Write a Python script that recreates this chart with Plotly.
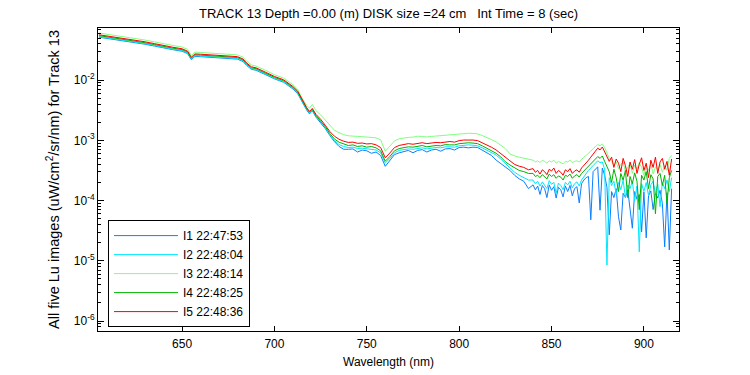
import plotly.graph_objects as go

# ---------------- data ----------------
wavelength_nm = [
    605, 610, 615, 620, 625, 630, 635, 640, 645, 650, 653, 655, 657, 660, 665, 670, 675,
    680, 683, 685, 687.5, 690, 695, 700, 705, 710, 712.5, 715, 717.5, 719, 720.5, 722.5,
    725, 727.5,
    730, 732.5, 735, 737.5, 740, 742.5, 745, 747.5, 750, 752.5, 755, 757.5, 760, 762.5,
    765, 767.5, 770, 772.5, 775, 777.5, 780, 782.5, 785, 787.5, 790, 792.5, 795, 797.5,
    800, 802.5, 805, 807.5, 810, 812.5, 815, 817.5, 820, 822.5, 825,
    827.5, 830, 832.5, 835, 837.5,
    840, 841.25, 842.5, 843.75, 845, 846.25, 847.5, 848.75, 850, 851.25, 852.5, 853.75,
    855, 856.25, 857.5, 858.75, 860, 861.25, 862.5, 863.75, 865, 866.25, 867.5, 868.75,
    870, 871.25, 872.5, 873.75, 875, 876.25, 877.5, 878.75, 880, 881.25, 882.5, 883.75,
    885, 886.25, 887.5, 888.75, 890, 891.25, 892.5, 893.75, 895, 896.25, 897.5, 898.75,
    900, 901.25, 902.5, 903.75, 905, 906.25, 907.5, 908.75, 910, 911.25, 912.5, 913.75, 915,
]

lu_i1 = [
    5.16e-2, 4.90e-2, 4.68e-2, 4.41e-2, 4.17e-2, 3.94e-2, 3.68e-2, 3.39e-2, 3.20e-2, 3.02e-2,
    2.75e-2, 2.19e-2, 2.48e-2, 2.45e-2, 2.40e-2, 2.37e-2, 2.32e-2, 2.23e-2, 2.04e-2, 1.75e-2,
    1.51e-2, 1.46e-2, 1.24e-2, 1.05e-2, 9.21e-3, 7.14e-3, 6.03e-3, 4.27e-3, 3.16e-3, 2.75e-3,
    3.09e-3, 2.42e-3, 1.99e-3, 1.57e-3,
    1.20e-3, 9.5e-4, 7.9e-4, 7.1e-4, 7.1e-4, 7.2e-4, 6.4e-4, 6.9e-4, 6.7e-4, 6.1e-4,
    6.4e-4, 5.6e-4, 3.7e-4, 4.6e-4, 5.8e-4, 6.2e-4, 6.5e-4, 6.8e-4, 6.2e-4, 6.8e-4,
    7.0e-4, 6.4e-4, 6.9e-4, 7.1e-4, 6.6e-4, 7.2e-4, 7.3e-4, 6.9e-4, 7.6e-4, 7.7e-4,
    7.5e-4, 7.7e-4, 7.6e-4, 6.8e-4, 6.2e-4, 5.6e-4, 4.7e-4, 4.1e-4, 3.5e-4,
    3.16e-4, 2.63e-4, 2.29e-4, 2.09e-4, 1.58e-4,
    1.82e-4, 1.51e-4, 1.74e-4, 1.26e-4, 1.78e-4, 1.58e-4, 1.12e-4, 1.82e-4, 1.48e-4, 1.70e-4,
    1.10e-4, 1.66e-4, 1.51e-4, 1.15e-4, 1.74e-4, 1.41e-4, 1.78e-4, 1.20e-4, 1.58e-4, 1.70e-4,
    9.12e-5, 1.91e-4, 2.19e-4, 2.40e-4, 2.51e-4, 4.79e-5, 3.02e-4, 3.31e-4, 3.63e-4, 6.92e-5,
    3.47e-4, 2.63e-4, 1.66e-4, 2.69e-5, 1.41e-4, 1.12e-4, 1.58e-4, 5.37e-5, 3.24e-5, 1.32e-4,
    1.12e-4, 1.51e-4, 7.94e-5, 3.47e-5, 1.41e-4, 1.05e-4, 1.26e-4, 3.02e-5, 1.38e-4, 2.40e-5,
    1.20e-4, 1.45e-4, 7.08e-5, 1.32e-4, 1.10e-4, 1.48e-4, 8.91e-5, 1.70e-5, 1.35e-4, 1.51e-5,
    1.58e-4,
]

lu_i2 = [
    5.28e-2, 5.01e-2, 4.79e-2, 4.52e-2, 4.26e-2, 4.03e-2, 3.76e-2, 3.47e-2, 3.27e-2, 3.09e-2,
    2.82e-2, 2.24e-2, 2.54e-2, 2.51e-2, 2.45e-2, 2.43e-2, 2.37e-2, 2.29e-2, 2.09e-2, 1.79e-2,
    1.55e-2, 1.49e-2, 1.27e-2, 1.07e-2, 9.42e-3, 7.31e-3, 6.17e-3, 4.37e-3, 3.24e-3, 2.82e-3,
    3.16e-3, 2.48e-3, 2.05e-3, 1.62e-3,
    1.23e-3, 9.9e-4, 8.5e-4, 7.9e-4, 7.6e-4, 7.7e-4, 7.3e-4, 7.4e-4, 7.2e-4, 7.2e-4,
    6.9e-4, 6.2e-4, 4.2e-4, 5.0e-4, 6.2e-4, 6.8e-4, 7.0e-4, 7.2e-4, 7.1e-4, 7.3e-4,
    7.5e-4, 7.2e-4, 7.4e-4, 7.6e-4, 7.5e-4, 7.8e-4, 7.8e-4, 7.7e-4, 8.1e-4, 8.3e-4,
    8.4e-4, 8.3e-4, 8.1e-4, 7.5e-4, 6.9e-4, 6.3e-4, 5.7e-4, 4.9e-4, 4.1e-4,
    3.39e-4, 2.95e-4, 2.63e-4, 2.40e-4, 2.19e-4,
    2.19e-4, 1.91e-4, 2.09e-4, 1.74e-4, 2.04e-4, 1.82e-4, 1.58e-4, 2.14e-4, 1.86e-4, 2.00e-4,
    1.32e-4, 1.95e-4, 1.78e-4, 1.51e-4, 2.00e-4, 1.82e-4, 2.09e-4, 1.62e-4, 1.91e-4, 2.04e-4,
    1.74e-4, 2.19e-4, 2.51e-4, 2.82e-4, 3.16e-4, 3.47e-4, 3.80e-4, 4.17e-4, 4.57e-4, 4.27e-4,
    4.37e-4, 3.31e-4, 8.51e-6, 2.40e-4, 1.78e-4, 2.09e-4, 1.26e-4, 2.00e-4, 1.51e-4, 2.19e-4,
    1.12e-4, 1.82e-4, 1.58e-4, 2.09e-4, 1.00e-4, 1.74e-4, 1.41e-5, 1.91e-4, 1.41e-4, 2.00e-4,
    1.20e-4, 1.82e-4, 2.09e-4, 1.32e-4, 1.86e-4, 7.94e-5, 2.00e-4, 1.58e-4, 2.19e-4, 1.41e-4,
    2.40e-4,
]

lu_i3 = [
    6.05e-2, 5.75e-2, 5.49e-2, 5.18e-2, 4.89e-2, 4.62e-2, 4.31e-2, 3.98e-2, 3.76e-2, 3.54e-2,
    3.23e-2, 2.57e-2, 2.91e-2, 2.88e-2, 2.81e-2, 2.78e-2, 2.72e-2, 2.62e-2, 2.40e-2, 2.05e-2,
    1.78e-2, 1.71e-2, 1.46e-2, 1.23e-2, 1.08e-2, 8.38e-3, 7.07e-3, 5.01e-3, 3.80e-3, 3.40e-3,
    3.95e-3, 3.10e-3, 2.65e-3, 2.17e-3,
    1.72e-3, 1.47e-3, 1.34e-3, 1.24e-3, 1.19e-3, 1.19e-3, 1.16e-3, 1.15e-3, 1.13e-3, 1.13e-3,
    1.10e-3, 1.02e-3, 6.6e-4, 8.0e-4, 9.8e-4, 1.06e-3, 1.10e-3, 1.12e-3, 1.13e-3, 1.17e-3,
    1.16e-3, 1.14e-3, 1.16e-3, 1.18e-3, 1.18e-3, 1.19e-3, 1.22e-3, 1.24e-3, 1.26e-3, 1.29e-3,
    1.31e-3, 1.30e-3, 1.28e-3, 1.20e-3, 1.12e-3, 1.03e-3, 9.4e-4, 8.4e-4, 7.3e-4,
    5.96e-4, 5.50e-4, 5.25e-4, 5.01e-4, 4.79e-4,
    4.68e-4, 4.37e-4, 4.57e-4, 4.27e-4, 4.68e-4, 4.47e-4, 4.17e-4, 4.57e-4, 4.37e-4, 4.68e-4,
    4.17e-4, 4.47e-4, 4.27e-4, 4.07e-4, 4.47e-4, 4.37e-4, 4.68e-4, 4.27e-4, 4.47e-4, 4.57e-4,
    4.37e-4, 4.90e-4, 5.25e-4, 5.62e-4, 6.03e-4, 6.61e-4, 7.24e-4, 7.94e-4, 8.51e-4, 8.13e-4,
    8.71e-4, 7.59e-4, 6.31e-4, 5.01e-4, 4.47e-4, 3.80e-4, 4.37e-4, 3.39e-4, 3.98e-4, 4.37e-4,
    3.02e-4, 3.63e-4, 4.17e-4, 2.82e-4, 3.89e-4, 3.31e-4, 4.27e-4, 3.55e-4, 2.63e-4, 3.80e-4,
    3.16e-4, 4.07e-4, 2.75e-4, 3.63e-4, 3.31e-4, 3.98e-4, 2.95e-4, 3.80e-4, 3.16e-4, 5.01e-4,
    5.62e-4,
]

lu_i4 = [
    5.47e-2, 5.19e-2, 4.96e-2, 4.68e-2, 4.41e-2, 4.17e-2, 3.89e-2, 3.59e-2, 3.39e-2, 3.20e-2,
    2.92e-2, 2.32e-2, 2.63e-2, 2.60e-2, 2.54e-2, 2.51e-2, 2.45e-2, 2.37e-2, 2.16e-2, 1.85e-2,
    1.60e-2, 1.55e-2, 1.31e-2, 1.11e-2, 9.76e-3, 7.56e-3, 6.39e-3, 4.52e-3, 3.35e-3, 2.92e-3,
    3.27e-3, 2.58e-3, 2.13e-3, 1.69e-3,
    1.30e-3, 1.05e-3, 9.3e-4, 8.6e-4, 8.2e-4, 8.4e-4, 7.9e-4, 8.1e-4, 7.7e-4, 7.9e-4,
    7.5e-4, 6.7e-4, 4.5e-4, 5.4e-4, 6.7e-4, 7.3e-4, 7.6e-4, 7.8e-4, 7.7e-4, 7.9e-4,
    8.2e-4, 7.8e-4, 8.1e-4, 8.2e-4, 8.1e-4, 8.5e-4, 8.4e-4, 8.4e-4, 8.8e-4, 9.0e-4,
    9.1e-4, 9.0e-4, 8.8e-4, 8.1e-4, 7.4e-4, 6.8e-4, 6.1e-4, 5.3e-4, 4.4e-4,
    3.89e-4, 3.47e-4, 3.16e-4, 3.02e-4, 2.82e-4,
    2.82e-4, 2.51e-4, 2.63e-4, 2.40e-4, 2.69e-4, 2.45e-4, 2.29e-4, 2.75e-4, 2.51e-4, 2.69e-4,
    2.34e-4, 2.57e-4, 2.45e-4, 2.19e-4, 2.63e-4, 2.51e-4, 2.75e-4, 2.34e-4, 2.57e-4, 2.69e-4,
    2.45e-4, 2.82e-4, 3.09e-4, 3.39e-4, 3.72e-4, 4.07e-4, 4.47e-4, 4.90e-4, 5.37e-4, 5.01e-4,
    5.50e-4, 4.47e-4, 3.55e-4, 3.02e-4, 2.00e-4, 3.31e-4, 2.40e-4, 1.41e-4, 2.82e-4, 2.19e-4,
    3.16e-4, 1.12e-4, 2.51e-4, 1.91e-4, 2.88e-4, 2.09e-4, 7.08e-5, 2.63e-4, 2.19e-4, 3.02e-4,
    1.58e-4, 2.69e-4, 2.29e-4, 6.03e-5, 2.51e-4, 2.82e-4, 1.78e-4, 2.63e-4, 8.91e-5, 2.40e-4,
    3.16e-4,
]

lu_i5 = [
    5.66e-2, 5.37e-2, 5.13e-2, 4.84e-2, 4.57e-2, 4.32e-2, 4.03e-2, 3.72e-2, 3.51e-2, 3.31e-2,
    3.02e-2, 2.40e-2, 2.72e-2, 2.69e-2, 2.63e-2, 2.60e-2, 2.54e-2, 2.45e-2, 2.24e-2, 1.92e-2,
    1.66e-2, 1.60e-2, 1.36e-2, 1.15e-2, 1.01e-2, 7.83e-3, 6.61e-3, 4.68e-3, 3.47e-3, 3.02e-3,
    3.39e-3, 2.69e-3, 2.24e-3, 1.78e-3,
    1.40e-3, 1.17e-3, 1.04e-3, 9.66e-4, 9.23e-4, 9.33e-4, 8.91e-4, 9.02e-4, 8.71e-4, 8.81e-4,
    8.41e-4, 7.59e-4, 5.13e-4, 6.17e-4, 7.59e-4, 8.22e-4, 8.51e-4, 8.81e-4, 8.61e-4, 8.91e-4,
    9.12e-4, 8.81e-4, 9.02e-4, 9.23e-4, 9.12e-4, 9.44e-4, 9.55e-4, 9.33e-4, 9.89e-4, 1.01e-3,
    1.02e-3, 1.01e-3, 9.89e-4, 9.12e-4, 8.41e-4, 7.67e-4, 6.92e-4, 6.03e-4, 5.13e-4,
    4.42e-4, 3.98e-4, 3.72e-4, 3.55e-4, 3.24e-4,
    3.39e-4, 2.95e-4, 3.16e-4, 2.75e-4, 3.24e-4, 3.02e-4, 2.69e-4, 3.31e-4, 3.09e-4, 3.47e-4,
    2.82e-4, 3.16e-4, 2.95e-4, 2.63e-4, 3.24e-4, 3.02e-4, 3.39e-4, 2.82e-4, 3.09e-4, 3.24e-4,
    2.95e-4, 3.47e-4, 3.80e-4, 4.17e-4, 4.68e-4, 5.25e-4, 6.03e-4, 6.61e-4, 7.41e-4, 6.92e-4,
    7.76e-4, 6.31e-4, 5.50e-4, 4.47e-4, 5.25e-4, 3.55e-4, 4.90e-4, 4.17e-4, 3.02e-4, 5.01e-4,
    3.80e-4, 2.51e-4, 4.37e-4, 3.31e-4, 4.79e-4, 2.82e-4, 3.98e-4, 5.13e-4, 3.16e-4, 4.17e-4,
    2.40e-4, 4.68e-4, 3.55e-4, 5.25e-4, 2.82e-4, 4.37e-4, 5.01e-4, 3.31e-4, 4.47e-4, 2.63e-4,
    4.90e-4,
]

series_names = ["I1 22:47:53", "I2 22:48:04", "I3 22:48:14", "I4 22:48:25", "I5 22:48:36"]
series_values = [lu_i1, lu_i2, lu_i3, lu_i4, lu_i5]
series_colors = ["#0a80ff", "#00e8ff", "#80ff80", "#00b400", "#ff0000"]

x_tick_values = [650, 700, 750, 800, 850, 900]
y_tick_values = [1e-6, 1e-5, 1e-4, 1e-3, 1e-2]
y_tick_text = ["10<sup>-6</sup>", "10<sup>-5</sup>", "10<sup>-4</sup>",
               "10<sup>-3</sup>", "10<sup>-2</sup>"]
x_title = "Wavelength (nm)"

for vals in series_values:
    assert len(vals) == len(wavelength_nm), (len(vals), len(wavelength_nm))

# ---------------- figure ----------------
fig = go.Figure()
for name, vals, col in zip(series_names, series_values, series_colors):
    fig.add_trace(go.Scatter(x=wavelength_nm, y=vals, mode="lines", name=name,
                             line=dict(color=col, width=1)))

minor_vals = [m * 10.0 ** e for e in range(-7, 0) for m in range(2, 10)]

font_family = "Liberation Sans, Arial, Helvetica, sans-serif"
NB = "\u00a0"

fig.update_layout(
    width=750, height=375,
    margin=dict(l=98, r=71, t=28, b=44),
    paper_bgcolor="white", plot_bgcolor="white",
    font=dict(family=font_family, size=12, color="black"),
    showlegend=True,
    title=dict(
        text="TRACK 13 Depth =0.00 (m) DISK size =24 cm" + NB * 3 + "Int Time = 8 (sec)",
        x=0.5, xref="paper", xanchor="center",
        y=1 - 13 / 375, yref="container", yanchor="middle",
        font=dict(family=font_family, size=13, color="black"),
    ),
    legend=dict(
        x=0.0172, y=0.366, xanchor="left", yanchor="top",
        bordercolor="black", borderwidth=1, bgcolor="white",
        font=dict(family=font_family, size=12, color="black"),
        itemwidth=64, tracegroupgap=0,
    ),
    xaxis=dict(
        range=[604.5, 919.0],
        tickmode="array", tickvals=x_tick_values,
        ticks="inside", ticklen=5, tickcolor="black",
        showline=True, linecolor="black", linewidth=1, mirror="allticks",
        showgrid=False, zeroline=False,
        ticklabelstandoff=2,
        tickfont=dict(family=font_family, size=12, color="black"),
    ),
    yaxis=dict(
        type="log", range=[-6.166, -1.135],
        tickmode="array", tickvals=y_tick_values, ticktext=y_tick_text,
        ticks="inside", ticklen=6, tickcolor="black",
        minor=dict(tickmode="array", tickvals=minor_vals, ticks="inside", ticklen=3,
                   tickcolor="black", showgrid=False),
        showline=True, linecolor="black", linewidth=1, mirror="allticks",
        showgrid=False, zeroline=False,
        title=dict(text="All five Lu images (uW/cm<sup>2</sup>/sr/nm) for Track 13", standoff=10,
                   font=dict(family=font_family, size=14.5, color="black")),
        tickfont=dict(family=font_family, size=12, color="black"),
    ),
    annotations=[dict(
        text=x_title, xref="paper", yref="paper", x=0.5, y=-0.1035,
        xanchor="center", yanchor="middle", showarrow=False,
        font=dict(family=font_family, size=12, color="black"),
    )],
)

fig.write_html("out.html", config={"displayModeBar": False},
               post_script="document.body.style.margin='0px';")
